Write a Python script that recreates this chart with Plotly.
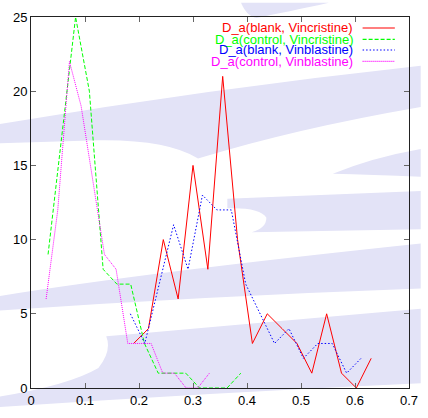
import plotly.graph_objects as go

# ---- data ----
red_x0, red_step = 0.19, 0.0275
red_y = [3, 4, 10, 6, 15, 8, 21, 10, 3, 5, 4, 3, 1, 5, 1, 0, 2]

green_x0, green_step = 0.0316, 0.0255
green_y = [9, 17, 25, 20, 8, 7, 7, 3, 1, 1, 1, 0, 0, 0, 1]

blue_x0, blue_step = 0.184, 0.0267
blue_y = [5, 3, 7, 11, 8, 13, 12, 12, 7, 5, 3, 4, 2, 3, 3, 1, 2]

mag_x0, mag_step = 0.028, 0.0216
mag_y = [6, 12, 22, 19, 14, 9, 8, 3, 3, 3, 1, 1, 0, 0, 1]

names = ["D_a(blank, Vincristine)", "D_a(control, Vincristine)",
         "D_a(blank, Vinblastine)", "D_a(control, Vinblastine)"]
colors = ["#ff0000", "#00ff00", "#0000ff", "#ff00ff"]
dashes = ["solid", "4px,2px", "1.5px,2px", "1px,1px"]

series = [(red_x0, red_step, red_y), (green_x0, green_step, green_y),
          (blue_x0, blue_step, blue_y), (mag_x0, mag_step, mag_y)]

W, H = 428, 418
L, R, T, B = 31, 418, 13, 401
FONT = "Liberation Sans, Arial, sans-serif"

def px(x, y):
    return (x - L) / (R - L), (B - y) / (B - T)

def path(cmds):
    out = []
    for c in cmds:
        op = c[0]
        pts = c[1:]
        coords = []
        for i in range(0, len(pts), 2):
            a, b = px(pts[i], pts[i + 1])
            coords.append(f"{a:.4f},{b:.4f}")
        out.append(op + " " + " ".join(coords) if coords else op)
    return " ".join(out)

lav = "#e3e3f7"
bg_paths = [
    # top swoosh
    [("M", 246, -2), ("C", 250, 8, 256, 13, 262, 14), ("C", 280, 10, 310, 4, 336, -2), ("Z",)],
    # big upper band with cusp
    [("M", -2, 125), ("Q", 214, 88, 430, 64), ("L", 430, 107), ("Q", 300, 130, 202, 161),
     ("Q", 170, 141, 100, 142), ("L", -2, 145), ("Z",)],
    # right wedge
    [("M", 340, 177), ("Q", 380, 160, 430, 151), ("L", 430, 180), ("Q", 380, 178, 340, 177), ("Z",)],
    # band with white tongue
    [("M", 232, 203), ("L", 430, 195), ("L", 430, 235), ("L", 257, 238),
     ("Q", 272, 234, 272, 223), ("Q", 266, 212, 232, 213), ("Z",)],
    # lower-middle band
    [("M", -2, 305), ("Q", 150, 280, 430, 250), ("L", 430, 297), ("Q", 214, 305, -2, 320), ("Z",)],
    # bottom region with left bulge and tail
    [("M", 108, 347), ("Q", 250, 334, 430, 318), ("L", 430, 396), ("Q", 214, 406, -2, 421),
     ("L", -2, 410), ("Q", 70, 398, 100, 380), ("Q", 114, 362, 108, 347), ("Z",)],
]

shapes = []
for p in bg_paths:
    shapes.append(dict(type="path", xref="paper", yref="paper", path=path(p),
                       fillcolor=lav, line=dict(width=0), layer="below"))

fig = go.Figure()
for (x0, st, ys), nm, col, ds in zip(series, names, colors, dashes):
    xs = [x0 + st * i for i in range(len(ys))]
    fig.add_trace(go.Scatter(x=xs, y=ys, mode="lines", name=nm,
                             line=dict(color=col, width=1, dash=ds),
                             showlegend=False, hoverinfo="skip"))

# legend drawn manually (text right-aligned, sample line on the right)
annotations = []
rows = [24.5, 36.5, 47.5, 59.5]
for yy, nm, col, ds in zip(rows, names, colors, dashes):
    ax, ay = px(361.7, yy)
    annotations.append(dict(x=ax, y=ay, xref="paper", yref="paper", text=nm,
                            showarrow=False, xanchor="right", yanchor="middle",
                            borderpad=0,
                            font=dict(color=col, size=13, family=FONT)))
    x1, y1 = px(370.5, yy)
    x2, _ = px(403.5, yy)
    shapes.append(dict(type="line", xref="paper", yref="paper", x0=x1, x1=x2, y0=y1, y1=y1,
                       line=dict(color=col, width=1.2, dash=ds)))

axis_common = dict(showline=True, linecolor="#222", linewidth=1, mirror="ticks",
                   ticks="inside", ticklen=5, tickcolor="#666", tickwidth=1,
                   showgrid=False, zeroline=False,
                   tickfont=dict(size=13, color="black", family=FONT))

fig.update_layout(
    width=W, height=H,
    margin=dict(l=L, r=W - R, t=T, b=H - B, pad=0),
    paper_bgcolor="white", plot_bgcolor="rgba(0,0,0,0)",
    xaxis=dict(range=[0, 0.7], dtick=0.1, tick0=0, **axis_common),
    yaxis=dict(range=[0, 25], dtick=5, tick0=0, **axis_common),
    shapes=shapes, annotations=annotations,
    showlegend=False,
)

fig.write_html("out.html", config={"displayModeBar": False},
               post_script="document.body.style.margin='0';document.body.style.overflow='hidden';")
